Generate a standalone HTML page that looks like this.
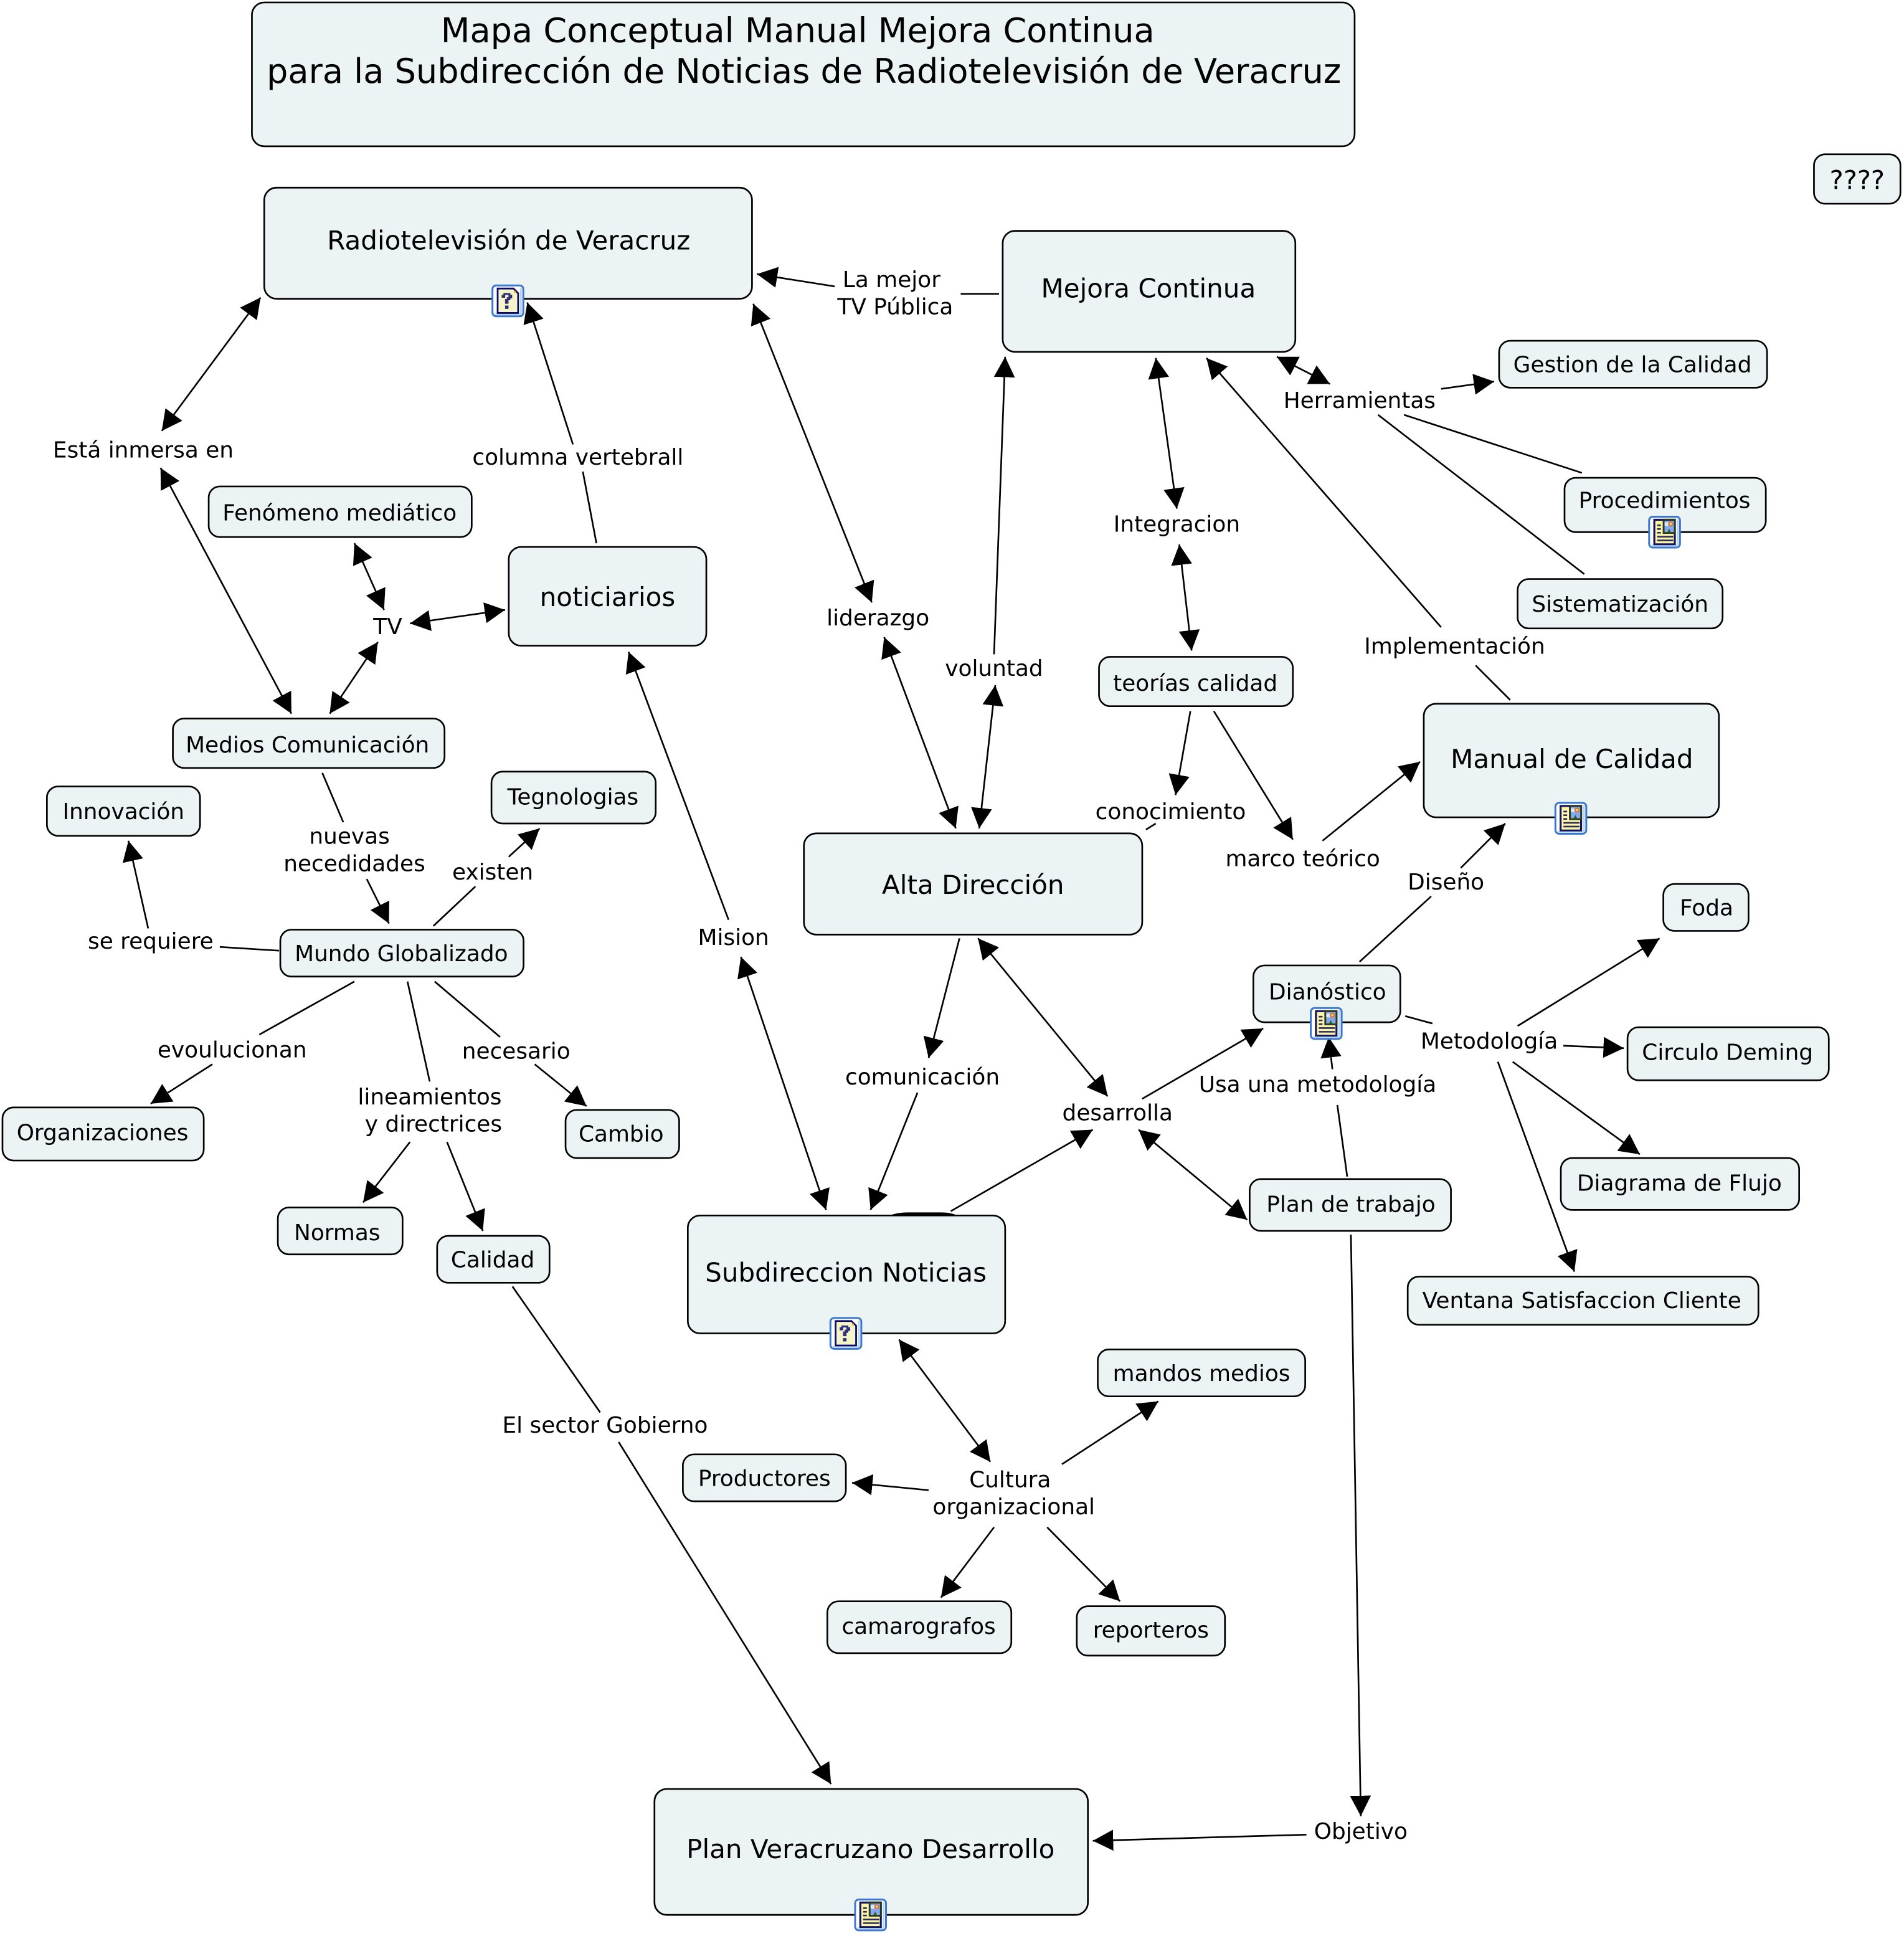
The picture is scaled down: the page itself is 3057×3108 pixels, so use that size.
<!DOCTYPE html>
<html><head><meta charset="utf-8"><title>Mapa Conceptual</title>
<style>
html,body{margin:0;padding:0;background:#fff}
svg{display:block}
text{font-family:"DejaVu Sans","Liberation Sans",sans-serif;font-size:18.1px;text-anchor:middle;dominant-baseline:central;fill:#000}
.big text{font-size:21.2px}
rect.b{fill:#ecf3f5;stroke:#000;stroke-width:1.35}
line{stroke:#000;stroke-width:1.35}
line.a{marker-end:url(#m)}
line.d{marker-end:url(#m);marker-start:url(#m)}
</style></head><body>
<svg xmlns="http://www.w3.org/2000/svg" width="3057" height="3108" viewBox="0 0 1541.9 1568.1" preserveAspectRatio="none">
<defs>
<marker id="m" markerUnits="userSpaceOnUse" markerWidth="19" markerHeight="19" refX="16.5" refY="9" orient="auto-start-reverse"><path d="M0,0.500 L16.500,9 L0,17.500 z" fill="#000"/></marker>
<symbol id="q" viewBox="0 0 27 27" overflow="visible">
<rect x="1" y="1" width="25" height="25" rx="3" fill="#fff" stroke="#3a78d0" stroke-width="1.500"/>
<rect x="23.300" y="3" width="1.500" height="21" fill="#b8d4f5"/>
<rect x="3" y="23.800" width="21" height="1.300" fill="#b8d4f5"/>
<path d="M5.200,3.500 H18 L21.800,7.300 V23.300 H5.200 Z" fill="#f5f5c8" stroke="#0a0a6e" stroke-width="1.400"/>
<rect x="18.500" y="5.500" width="1.500" height="1.500" fill="#f0b030"/>
<path d="M8.500,8.500 H9.900 V7.100 H15.500 V8.500 H17 V11.500 H15.500 V13 H14 V15.800 H11.200 V12 H12.600 V10.500 H14 V8.700 H11.300 V11 H8.500 Z M11.200,17.300 H14 V20 H11.200 Z" fill="#2f2f7a"/>
</symbol>
<symbol id="p" viewBox="0 0 27 27" overflow="visible">
<rect x="1" y="1" width="25" height="25" rx="3" fill="#fff" stroke="#3a78d0" stroke-width="1.500"/>
<rect x="23.300" y="3" width="1.500" height="21" fill="#b8d4f5"/>
<rect x="3" y="23.800" width="21" height="1.300" fill="#b8d4f5"/>
<rect x="4.400" y="2.700" width="18.200" height="21.400" fill="#14145e"/>
<rect x="6" y="4.300" width="15" height="18.300" fill="#fbf5a8"/>
<rect x="12" y="2.700" width="10.600" height="12.200" fill="#2a3a20"/>
<rect x="13.500" y="4.300" width="7.600" height="9.200" fill="#86a6ee"/>
<rect x="13.500" y="5.500" width="3" height="3" fill="#dde8fa"/>
<circle cx="18.500" cy="6.800" r="2" fill="#e07a2c"/>
<circle cx="18.500" cy="6.800" r="0.800" fill="#f8e8a8"/>
<path d="M15.800,13.500 L17.200,10.800 L18.600,13.500 Z" fill="#1c6a1c"/>
<path d="M7.500,8h3M7.500,11h3M7.500,14h3M7.500,17.200h13M7.500,20.200h13" stroke="#2a2a5e" stroke-width="1.300"/>
</symbol>
</defs>

<!-- connectors -->
<line class="d" x1="131" y1="349" x2="211" y2="241"/>
<line class="d" x1="130" y1="379" x2="236" y2="578"/>
<line x1="483" y1="440" x2="472" y2="382"/>
<line class="a" x1="464" y1="360" x2="427" y2="245"/>
<line class="d" x1="287" y1="440" x2="311" y2="494"/>
<line class="d" x1="332" y1="505" x2="409" y2="494"/>
<line class="d" x1="306" y1="520" x2="267" y2="578"/>
<line class="d" x1="610" y1="246" x2="706" y2="488"/>
<line class="d" x1="716" y1="516" x2="774" y2="671"/>
<line class="d" x1="793" y1="671" x2="806" y2="555"/>
<line class="a" x1="805" y1="530" x2="814" y2="289"/>
<line class="a" x1="676" y1="232" x2="613" y2="222"/>
<line x1="778" y1="238" x2="809" y2="238"/>
<line class="d" x1="1034" y1="289" x2="1077" y2="311"/>
<line class="a" x1="1167" y1="315" x2="1210" y2="309"/>
<line x1="1137" y1="336" x2="1281" y2="383"/>
<line x1="1116" y1="336" x2="1283" y2="465"/>
<line class="d" x1="936" y1="290" x2="953" y2="412"/>
<line class="d" x1="955" y1="441" x2="965" y2="527"/>
<line class="a" x1="964" y1="576" x2="952" y2="644"/>
<line x1="936" y1="667" x2="928" y2="672"/>
<line class="a" x1="983" y1="576" x2="1047" y2="680"/>
<line class="a" x1="1071" y1="681" x2="1150" y2="617"/>
<line x1="1223" y1="567" x2="1195" y2="539"/>
<line class="a" x1="1167" y1="508" x2="977" y2="290"/>
<line x1="1101" y1="779" x2="1159" y2="726"/>
<line class="a" x1="1183" y1="703" x2="1219" y2="667"/>
<line x1="1138" y1="823" x2="1160" y2="829"/>
<line class="a" x1="1229" y1="831" x2="1344" y2="760"/>
<line class="a" x1="1266" y1="847" x2="1315" y2="849"/>
<line class="a" x1="1225" y1="860" x2="1328" y2="935"/>
<line class="a" x1="1213" y1="860" x2="1275" y2="1030"/>
<line x1="1091" y1="953" x2="1083" y2="895"/>
<line class="a" x1="1079" y1="866" x2="1076" y2="840"/>
<line class="a" x1="925" y1="890" x2="1023" y2="833"/>
<line class="d" x1="922" y1="915" x2="1010" y2="988"/>
<line class="d" x1="792" y1="760" x2="897" y2="888"/>
<line class="a" x1="777" y1="760" x2="752" y2="857"/>
<line class="a" x1="743" y1="885" x2="705" y2="980"/>
<line class="a" x1="770" y1="981" x2="885" y2="915"/>
<line class="d" x1="600" y1="775" x2="669" y2="980"/>
<line class="a" x1="590" y1="745" x2="509" y2="528"/>
<line class="d" x1="728" y1="1085" x2="802" y2="1184"/>
<line class="a" x1="860" y1="1186" x2="938" y2="1135"/>
<line class="a" x1="752" y1="1207" x2="690" y2="1201"/>
<line class="a" x1="805" y1="1237" x2="762" y2="1294"/>
<line class="a" x1="848" y1="1237" x2="907" y2="1297"/>
<line class="a" x1="1094" y1="1000" x2="1102" y2="1471"/>
<line class="a" x1="1058" y1="1486" x2="885" y2="1491"/>
<line x1="415" y1="1042" x2="486" y2="1144"/>
<line class="a" x1="501" y1="1168" x2="673" y2="1445"/>
<line x1="261" y1="626" x2="278" y2="666"/>
<line class="a" x1="297" y1="712" x2="315" y2="748"/>
<line x1="351" y1="750" x2="385" y2="718"/>
<line class="a" x1="412" y1="694" x2="437" y2="671"/>
<line x1="226" y1="770" x2="178" y2="767"/>
<line class="a" x1="120" y1="752" x2="104" y2="681"/>
<line x1="287" y1="795" x2="210" y2="838"/>
<line class="a" x1="172" y1="862" x2="122" y2="894"/>
<line x1="352" y1="795" x2="405" y2="840"/>
<line class="a" x1="433" y1="862" x2="475" y2="896"/>
<line x1="330" y1="795" x2="348" y2="876"/>
<line class="a" x1="332" y1="925" x2="294" y2="974"/>
<line class="a" x1="362" y1="925" x2="391" y2="997"/>

<!-- blob on Subdireccion -->
<path d="M719,985 Q726,982 735,982 H762 Q771,982 776,985 Z" fill="#000"/>

<!-- boxes -->
<rect class="b" x="204" y="2" width="893" height="116.500" rx="10"/>
<rect class="b" x="214" y="152" width="395" height="90" rx="10"/>
<rect class="b" x="812" y="187" width="237" height="98" rx="10"/>
<rect class="b" x="1469" y="125" width="70" height="40" rx="9"/>
<rect class="b" x="1214" y="276" width="217" height="38" rx="9"/>
<rect class="b" x="1267" y="387" width="163" height="44" rx="9"/>
<rect class="b" x="1229" y="469" width="166" height="40" rx="9"/>
<rect class="b" x="169" y="394" width="213" height="41" rx="9"/>
<rect class="b" x="412" y="443" width="160" height="80" rx="10"/>
<rect class="b" x="140" y="582" width="220" height="40" rx="9"/>
<rect class="b" x="890" y="532" width="157" height="40" rx="9"/>
<rect class="b" x="1153" y="570" width="239" height="92" rx="10"/>
<rect class="b" x="38" y="637" width="124" height="40" rx="9"/>
<rect class="b" x="398" y="625" width="133" height="42" rx="9"/>
<rect class="b" x="651" y="675" width="274" height="82" rx="10"/>
<rect class="b" x="227" y="753" width="197" height="38" rx="9"/>
<rect class="b" x="1347" y="716" width="69" height="38" rx="9"/>
<rect class="b" x="1015" y="782" width="119" height="46" rx="9"/>
<rect class="b" x="1318" y="832" width="163" height="43" rx="9"/>
<rect class="b" x="2" y="897" width="163" height="43" rx="9"/>
<rect class="b" x="458" y="899" width="92" height="39" rx="9"/>
<rect class="b" x="1264" y="938" width="193" height="42" rx="9"/>
<rect class="b" x="1012" y="955" width="163" height="42" rx="9"/>
<rect class="b" x="225" y="978" width="101" height="38" rx="9"/>
<rect class="b" x="354" y="1001" width="91" height="38" rx="9"/>
<rect class="b" x="557" y="984.500" width="257" height="95.500" rx="10"/>
<rect class="b" x="1140" y="1034" width="284" height="39" rx="9"/>
<rect class="b" x="889" y="1093" width="168" height="38" rx="9"/>
<rect class="b" x="553" y="1178" width="132" height="38" rx="9"/>
<rect class="b" x="670" y="1297" width="149" height="42" rx="9"/>
<rect class="b" x="872" y="1301" width="120" height="40" rx="9"/>
<rect class="b" x="530" y="1449" width="351" height="102" rx="10"/>

<!-- icons -->
<use href="#q" x="397.800" y="230.200" width="27" height="27"/>
<use href="#p" x="1334.500" y="417.500" width="27" height="27"/>
<use href="#p" x="1258.600" y="649.300" width="27" height="27"/>
<use href="#p" x="1060.500" y="815.500" width="27" height="27"/>
<use href="#q" x="671.500" y="1066.500" width="27" height="27"/>
<use href="#p" x="691.500" y="1537.500" width="27" height="27"/>

<g transform="translate(0,0.7)">
<!-- title -->
<text x="646" y="24" style="font-size:27.300px">Mapa Conceptual Manual Mejora Continua</text>
<text x="651" y="57" style="font-size:27.300px">para la Subdirección de Noticias de Radiotelevisión de Veracruz</text>

<!-- node text -->
<g class="big">
<text x="412" y="194">Radiotelevisión de Veracruz</text>
<text x="930" y="233">Mejora Continua</text>
<text x="492" y="483">noticiarios</text>
<text x="1273" y="614">Manual de Calidad</text>
<text x="788" y="716">Alta Dirección</text>
<text x="685" y="1030">Subdireccion Noticias</text>
<text x="705" y="1497">Plan Veracruzano Desarrollo</text>
</g>
<text x="1504" y="145" style="font-size:21px">????</text>
<text x="1322" y="295">Gestion de la Calidad</text>
<text x="1348" y="405">Procedimientos</text>
<text x="1312" y="489">Sistematización</text>
<text x="275" y="415">Fenómeno mediático</text>
<text x="249" y="603">Medios Comunicación</text>
<text x="968" y="553">teorías calidad</text>
<text x="100" y="657">Innovación</text>
<text x="464" y="645">Tegnologias</text>
<text x="325" y="772">Mundo Globalizado</text>
<text x="1382" y="735">Foda</text>
<text x="1075" y="803">Dianóstico</text>
<text x="1399" y="852">Circulo Deming</text>
<text x="83" y="917">Organizaciones</text>
<text x="503" y="918">Cambio</text>
<text x="1360" y="958">Diagrama de Flujo</text>
<text x="1094" y="975">Plan de trabajo</text>
<text x="273" y="998">Normas</text>
<text x="399" y="1020">Calidad</text>
<text x="1281" y="1053">Ventana Satisfaccion Cliente</text>
<text x="973" y="1112">mandos medios</text>
<text x="619" y="1197">Productores</text>
<text x="744" y="1317">camarografos</text>
<text x="932" y="1320">reporteros</text>

<!-- link labels -->
<text x="722" y="226">La mejor</text>
<text x="725" y="248">TV Pública</text>
<text x="1101" y="324">Herramientas</text>
<text x="953" y="424">Integracion</text>
<text x="116" y="364">Está inmersa en</text>
<text x="468" y="370">columna vertebrall</text>
<text x="314" y="507">TV</text>
<text x="711" y="500">liderazgo</text>
<text x="805" y="541">voluntad</text>
<text x="1178" y="523">Implementación</text>
<text x="948" y="657">conocimiento</text>
<text x="1055" y="695">marco teórico</text>
<text x="283" y="677">nuevas</text>
<text x="287" y="699">necedidades</text>
<text x="399" y="706">existen</text>
<text x="122" y="762">se requiere</text>
<text x="594" y="759">Mision</text>
<text x="1171" y="714">Diseño</text>
<text x="747" y="872">comunicación</text>
<text x="1206" y="843">Metodología</text>
<text x="188" y="850">evoulucionan</text>
<text x="418" y="851">necesario</text>
<text x="348" y="888">lineamientos</text>
<text x="351" y="910">y directrices</text>
<text x="905" y="901">desarrolla</text>
<text x="1067" y="878">Usa una metodología</text>
<text x="818" y="1198">Cultura</text>
<text x="821" y="1220">organizacional</text>
<text x="490" y="1154">El sector Gobierno</text>
<text x="1102" y="1483">Objetivo</text>
</g>
</svg>
</body></html>
